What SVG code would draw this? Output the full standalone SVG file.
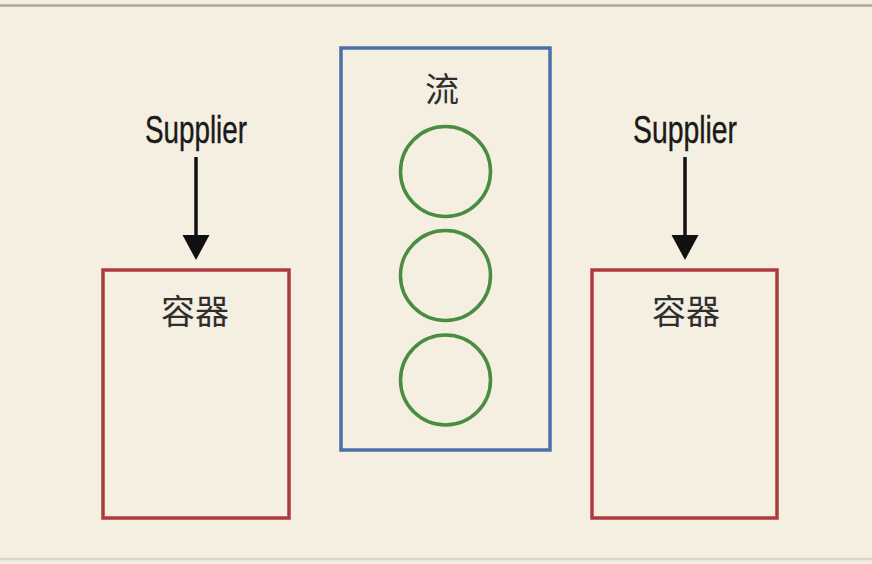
<svg xmlns="http://www.w3.org/2000/svg" width="872" height="564" viewBox="0 0 872 564">
<style>
.bg{fill:#f4efe0}
.rule{stroke:#aba69c;stroke-width:2.5}
.box{fill:none;stroke:#ad3a40;stroke-width:3.5}
.stream{fill:none;stroke:#4a70a6;stroke-width:3.5}
.item{fill:none;stroke:#4a8c42;stroke-width:3.5}
.sup{font-family:"Liberation Sans",Arial,sans-serif;font-size:38px;fill:#1a1a1a;stroke:#1a1a1a;stroke-width:0.4;text-anchor:middle}
.cjk{font-family:"Noto Sans CJK SC","Noto Sans CJK JP",sans-serif;font-size:34px;fill:#2e2e2e;text-anchor:middle}
.edge{stroke:#111;stroke-width:3.5;fill:none}
.head{fill:#111}
</style>
<rect class="bg" x="0" y="0" width="872" height="564"/>
<line class="rule" x1="0" y1="5.5" x2="872" y2="5.5"/>
<line class="rule" x1="0" y1="559" x2="872" y2="559" style="stroke:#dcd7ca"/>
<g id="connectors">
<line class="edge" x1="196" y1="157" x2="196" y2="238"/>
<path class="head" d="M182.5,235 L209.5,235 L196,260 Z"/>
<line class="edge" x1="685" y1="157" x2="685" y2="238"/>
<path class="head" d="M671.5,235 L698.5,235 L685,260 Z"/>
</g>
<g id="supplier-left">
<text class="sup" x="196" y="143" textLength="102" lengthAdjust="spacingAndGlyphs">Supplier</text>
</g>
<g id="supplier-right">
<text class="sup" x="685" y="143" textLength="104" lengthAdjust="spacingAndGlyphs">Supplier</text>
</g>
<g id="container-left">
<rect class="box" x="103" y="270" width="186" height="248"/>
<text class="cjk" x="195" y="324">容器</text>
</g>
<g id="stream">
<rect class="stream" x="341" y="48" width="209" height="402"/>
<text class="cjk" x="442" y="102">流</text>
<circle class="item" cx="445.5" cy="171.5" r="45"/>
<circle class="item" cx="445.5" cy="275.5" r="45"/>
<circle class="item" cx="445.5" cy="380" r="45"/>
</g>
<g id="container-right">
<rect class="box" x="592" y="270" width="185" height="248"/>
<text class="cjk" x="686" y="324">容器</text>
</g>
</svg>
